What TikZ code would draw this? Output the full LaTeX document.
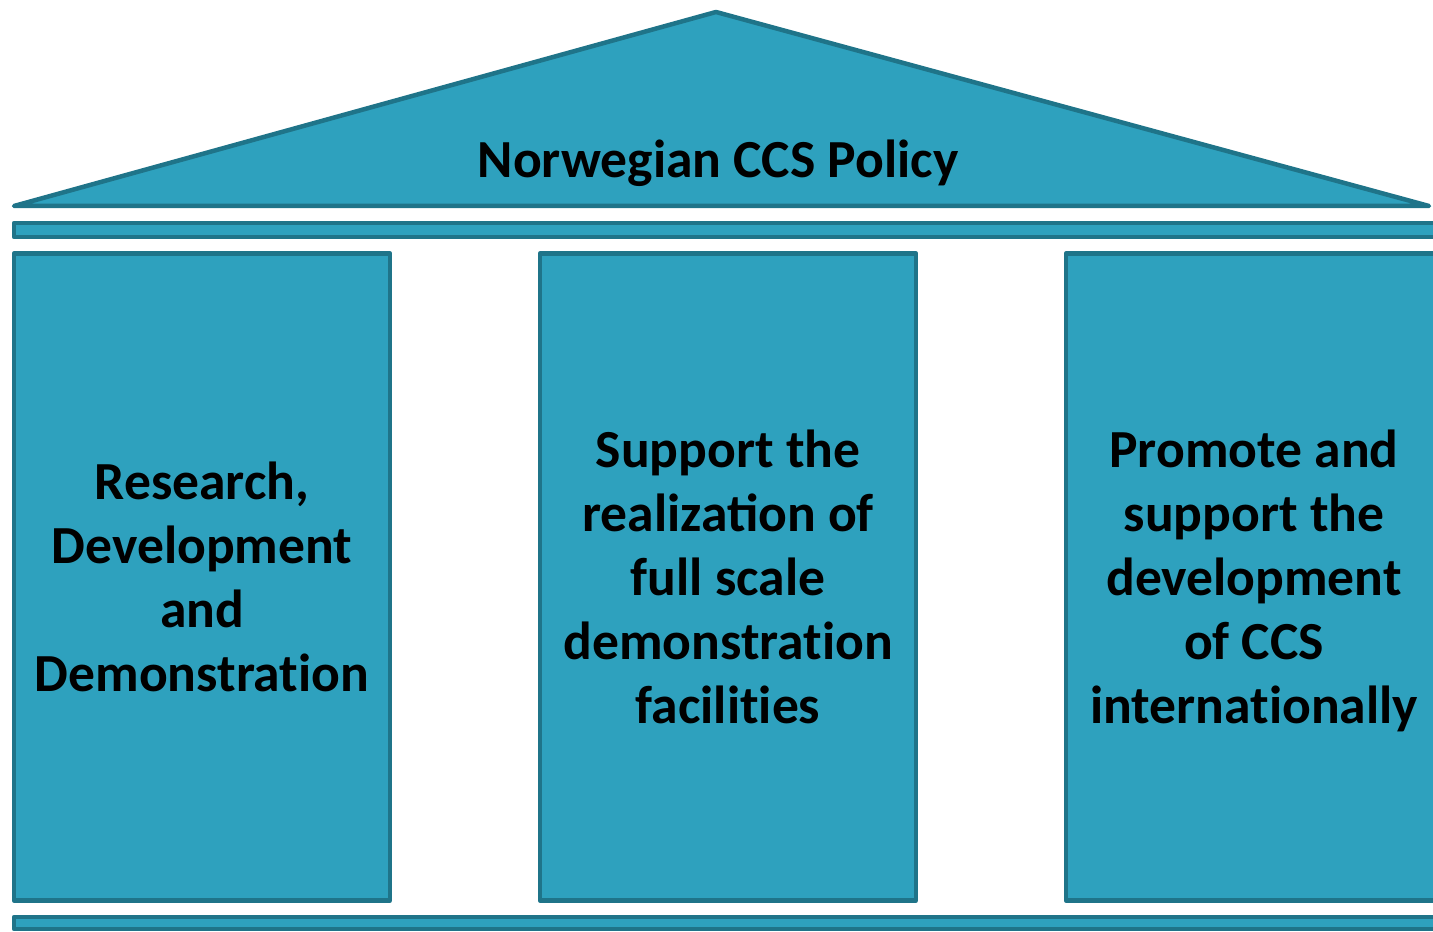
\documentclass[tikz,border=0pt]{standalone}
\usepackage{fontspec}
\setmainfont{Carlito}
\usepackage{tikz}
\usetikzlibrary{positioning}
\definecolor{ccsfill}{HTML}{2EA1BE}
\definecolor{ccsline}{HTML}{1F7489}
% keeps t and i apart (Calibri sets no ligature there)
\newcommand{\tisep}{t\kern0pt i}

\begin{document}
\begin{tikzpicture}[x=0.02cm, y=-0.02cm,
		part/.style={fill=ccsfill, draw=ccsline, line width=0.09cm, line join=round},
		pillar/.style={part, rectangle, minimum width=7.52cm, minimum height=12.94cm,
			align=center, inner sep=0pt, text depth=0pt,
			font=\fontsize{30.5}{36.4}\selectfont\bfseries},
		label/.style={font=\fontsize{30.5}{36.4}\selectfont\bfseries}]
	\useasboundingbox (0,0) rectangle (1433,932);
	
	% Roof
	\draw[part] (14,206) -- (716,12) -- (1429,206) -- cycle;
	\node[label] (policy) at (718,163) {Norwegian CCS Policy};
	
	% Beam
	\draw[part] (14,223) rectangle (1440,237);
	
	% Pillars
	\node[pillar] (rdd) at (202,577) {Research,\\Development\\and\\Demonstra\tisep on};
	\node[pillar] (demo) at (728,577) {Support the\\realization of\\full scale\\demonstra\tisep on\\facili\tisep es};
	\node[pillar] (intl) at (1254,577) {Promote and\\support the\\development\\of CCS\\interna\tisep onally};
	
	% Base
	\draw[part] (14,917) rectangle (1440,929);
\end{tikzpicture}
\end{document}
